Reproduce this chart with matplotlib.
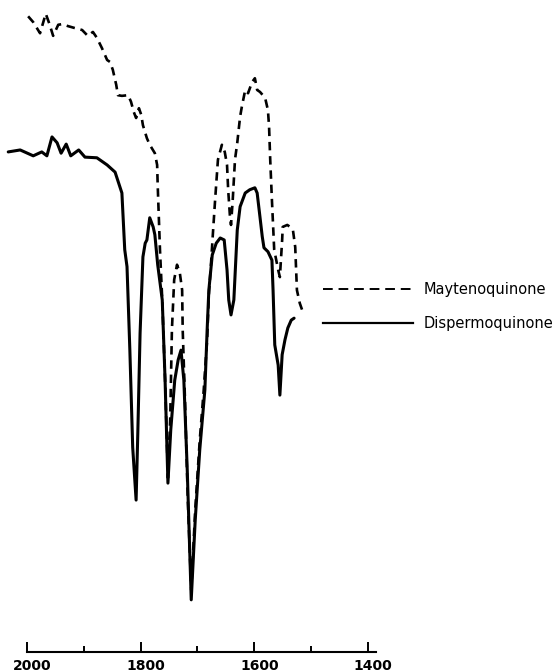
import matplotlib
matplotlib.use("Agg")
import matplotlib.pyplot as plt
from matplotlib.lines import Line2D
from matplotlib.transforms import ScaledTranslation

# IR spectra, wavenumber (cm-1) vs relative transmittance
dispermo_wn = [2033, 2012, 1989, 1974, 1965, 1956, 1947, 1940, 1931, 1923, 1909, 1898,
               1877, 1859, 1845, 1833, 1828, 1824, 1819, 1814, 1808, 1805, 1801, 1796,
               1792, 1789, 1784, 1778, 1775, 1770, 1762, 1757, 1752, 1747, 1740, 1734,
               1729, 1724, 1718, 1711, 1704, 1696, 1687, 1683, 1680, 1674, 1667, 1660,
               1653, 1648, 1645, 1641, 1636, 1630, 1625, 1616, 1608, 1599, 1595, 1590,
               1586, 1583, 1576, 1569, 1567, 1564, 1558, 1555, 1551, 1546, 1541, 1535,
               1530]
dispermo_t = [76.7, 77.0, 76.1, 76.7, 76.1, 79.0, 78.1, 76.5, 77.9, 76.1, 77.0, 75.9,
              75.8, 74.7, 73.6, 70.4, 61.7, 59.1, 46.3, 31.4, 23.3, 33.6, 48.9, 60.6,
              62.7, 63.2, 66.6, 65.2, 64.0, 59.4, 54.0, 41.7, 25.9, 34.1, 41.7, 44.8,
              46.3, 41.7, 27.9, 8.0, 20.2, 31.0, 40.2, 49.4, 55.5, 60.9, 62.7, 63.5,
              63.2, 58.6, 54.0, 51.7, 54.0, 64.7, 68.3, 70.4, 70.9, 71.2, 70.4, 66.7,
              63.7, 62.0, 61.4, 60.1, 55.5, 47.1, 44.0, 39.4, 45.6, 47.9, 49.7, 50.9,
              51.2]

mayteno_wn = [1998, 1989, 1977, 1967, 1960, 1954, 1945, 1938, 1928, 1916, 1903, 1893,
              1884, 1877, 1868, 1859, 1854, 1849, 1843, 1840, 1833, 1822, 1817, 1812,
              1808, 1803, 1799, 1796, 1789, 1784, 1775, 1771, 1770, 1766, 1762, 1757,
              1752, 1748, 1745, 1741, 1736, 1731, 1727, 1726, 1722, 1717, 1711, 1704,
              1696, 1689, 1683, 1680, 1676, 1673, 1669, 1664, 1657, 1652, 1648, 1646,
              1643, 1641, 1638, 1634, 1630, 1625, 1622, 1616, 1611, 1604, 1599, 1595,
              1590, 1581, 1576, 1574, 1572, 1569, 1565, 1558, 1555, 1551, 1550, 1542,
              1537, 1532, 1528, 1525, 1520, 1516]
mayteno_t = [97.5, 96.6, 94.9, 97.9, 96.2, 94.5, 96.2, 96.3, 96.0, 95.7, 95.4, 94.5,
             95.1, 94.2, 92.6, 90.8, 90.5, 89.3, 87.0, 85.4, 85.3, 85.4, 84.4, 82.8,
             81.9, 83.4, 82.4, 80.8, 78.8, 77.8, 76.5, 74.7, 71.6, 61.7, 54.0, 41.7,
             26.7, 35.6, 49.4, 57.1, 59.4, 58.1, 55.5, 49.4, 38.7, 23.3, 9.5, 21.8,
             32.5, 40.2, 47.9, 54.8, 59.8, 64.0, 69.3, 75.5, 77.8, 76.7, 74.7, 70.9,
             67.0, 65.5, 69.3, 75.5, 78.1, 82.1, 83.6, 86.2, 85.7, 87.4, 88.0, 86.2,
             85.9, 85.0, 83.1, 80.5, 75.5, 69.3, 61.7, 58.6, 57.5, 63.2, 65.2, 65.5,
             65.2, 64.7, 62.1, 55.5, 53.5, 52.5]

major_ticks = [2000, 1800, 1600, 1400]
minor_ticks = [1900, 1700, 1500]

fig = plt.figure(figsize=(5.58, 6.72), dpi=100)
ax = fig.add_axes([0, 20 / 672, 1, 652 / 672])

dash = (0, (3.2, 2.2))
ax.plot(mayteno_wn, mayteno_t, color="black", lw=1.9, linestyle=dash)
ax.plot(dispermo_wn, dispermo_t, color="black", lw=2.2, solid_capstyle="round",
        solid_joinstyle="round")

ax.set_xlim(2047.5, 1065.6)
ax.set_ylim(0, 100)

for s in ["top", "left", "right"]:
    ax.spines[s].set_visible(False)
ax.spines["bottom"].set_bounds(2000, 1386)
ax.spines["bottom"].set_linewidth(1.5)
ax.set_yticks([])
ax.set_xticks(major_ticks)
ax.set_xticklabels([str(t) for t in major_ticks], fontsize=10, fontweight="bold")
ax.set_xticks(minor_ticks, minor=True)
ax.tick_params(axis="x", which="major", direction="in", length=7, width=1.4, pad=5)
ax.tick_params(axis="x", which="minor", direction="in", length=4, width=1.4)
# labels in the original sit a little right of their ticks
shift = ScaledTranslation(0.05, 0, fig.dpi_scale_trans)
for lbl in ax.get_xticklabels():
    lbl.set_transform(lbl.get_transform() + shift)

handles = [
    Line2D([], [], color="black", lw=1.4, linestyle=(0, (5, 3))),
    Line2D([], [], color="black", lw=1.6),
]
ax.legend(handles, ["Maytenoquinone", "Dispermoquinone"], loc="upper left",
          bbox_to_anchor=(323 / 558, 1 - 282 / 672), bbox_transform=fig.transFigure,
          frameon=False, borderpad=0, borderaxespad=0, handlelength=6.2,
          handletextpad=0.68, labelspacing=1.28, fontsize=10.5)

fig.savefig("out.png", dpi=100)
